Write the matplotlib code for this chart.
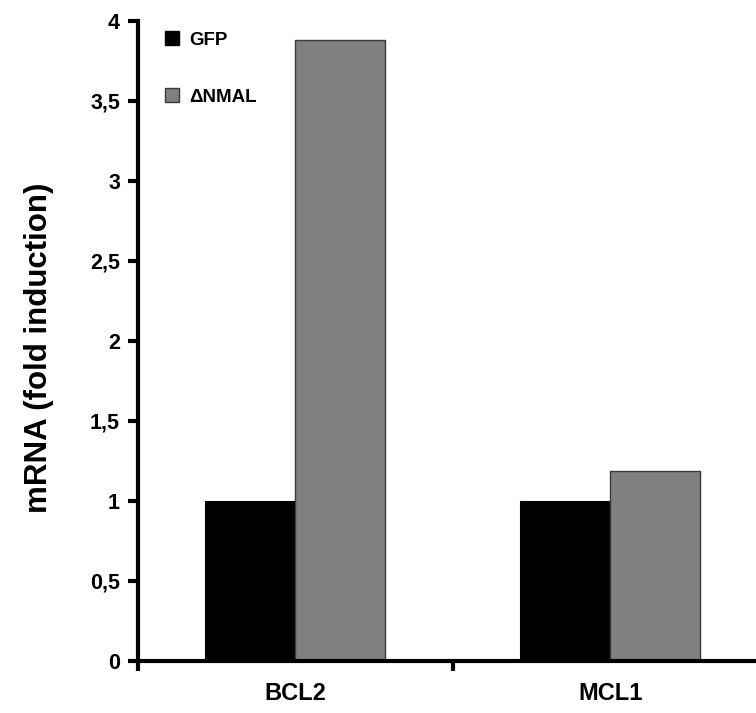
import matplotlib
matplotlib.use("Agg")
import matplotlib.pyplot as plt
import numpy as np
from matplotlib.patches import Patch

plt.rcParams['font.family'] = ['Liberation Sans', 'DejaVu Sans']
plt.rcParams['font.weight'] = 'bold'

categories = ["BCL2", "MCL1"]
series_names = ["GFP", "\u0394NMAL"]
gfp = [1.0, 1.0]
dnmal = [3.88, 1.19]
yticks = [0, 0.5, 1, 1.5, 2, 2.5, 3, 3.5, 4]
ytick_labels = ["0", "0,5", "1", "1,5", "2", "2,5", "3", "3,5", "4"]

fig = plt.figure(figsize=(7.56, 7.13), dpi=100)
W, H = 756, 713
ax = fig.add_axes([138 / W, 52 / H, (756 - 138) / W, (661 - 21) / H])

x = np.arange(len(categories))
bw = 0.286
ax.bar(x - bw / 2, gfp, width=bw, color="black", edgecolor="black", linewidth=0.8)
ax.bar(x + bw / 2, dnmal, width=bw, color="#808080", edgecolor="#3a3a3a", linewidth=1.0)

ax.set_xlim(-0.5, 1.463)
ax.set_ylim(0, 4)
ax.set_yticks(yticks)
ax.set_yticklabels(ytick_labels, fontsize=15.5, fontweight="bold")
ax.set_xticks(x)
ax.set_xticklabels(categories, fontsize=17, fontweight="bold")
ax.set_xticks([-0.5, 0.5], minor=True)
ax.tick_params(axis="x", which="major", length=0, pad=15)
ax.tick_params(axis="x", which="minor", length=7, width=3, direction="out")
ax.tick_params(axis="y", length=7, width=3, direction="out", pad=6)

for s in ["top", "right"]:
    ax.spines[s].set_visible(False)
for s in ["left", "bottom"]:
    ax.spines[s].set_linewidth(3)

ax.set_ylabel("mRNA (fold induction)", fontsize=22.5, fontweight="bold")
ax.yaxis.set_label_coords(-0.136, 0.49)

handles = [Patch(facecolor="black", edgecolor="black"),
           Patch(facecolor="#808080", edgecolor="#3a3a3a")]
ax.legend(handles, series_names, loc="upper left", bbox_to_anchor=(0.017, 1.01),
          frameon=False, prop={"weight": "bold", "size": 13.5},
          handlelength=0.75, handleheight=0.75, handletextpad=0.5, labelspacing=2.1)

fig.savefig("out.png", dpi=100)
